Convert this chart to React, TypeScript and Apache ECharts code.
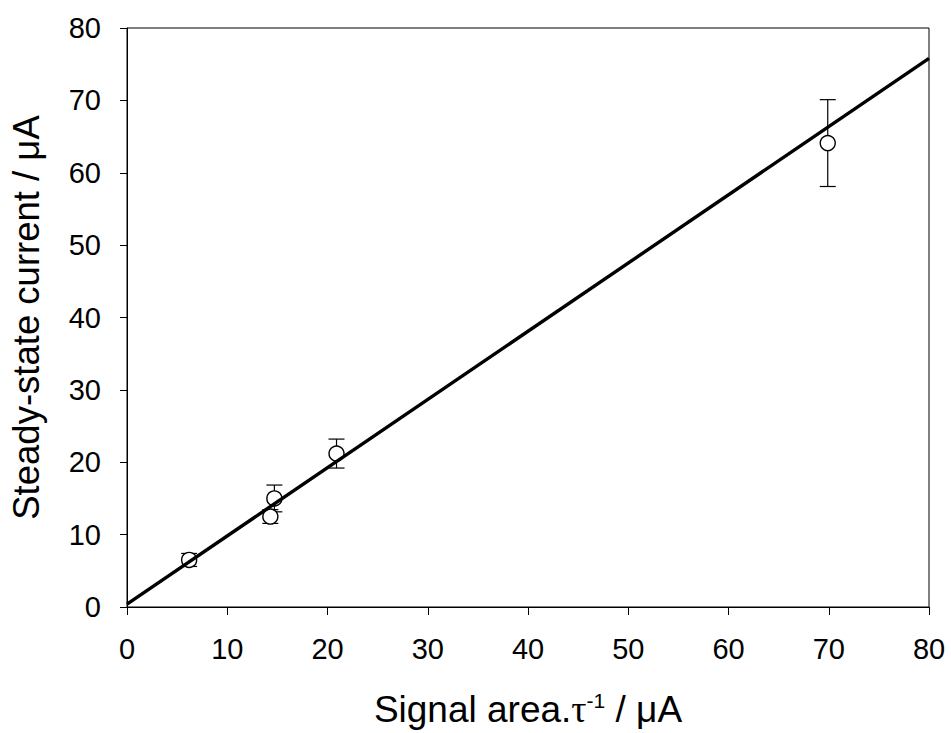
import React, { useEffect, useRef } from "react";
import * as echarts from "echarts";

const xTicks = [0, 10, 20, 30, 40, 50, 60, 70, 80];
const yTicks = [0, 10, 20, 30, 40, 50, 60, 70, 80];
const signalArea = [6.2, 14.3, 14.7, 20.9, 69.9];
const steadyCurrent = [6.5, 12.5, 15.0, 21.2, 64.1];
const errorSize = [0.9, 0.95, 1.85, 2.0, 6.0];
const fitX = [0, 80];
const fitY = [0.4, 75.8];

export default function App() {
  const ref = useRef<HTMLDivElement>(null);
  useEffect(() => {
    document.body.style.margin = "0";
    if (!ref.current) return;
    const chart = echarts.init(ref.current, null, { renderer: "svg" });
    const font = "'Liberation Sans', Arial, sans-serif";
    const points = signalArea.map((x, i) => [x, steadyCurrent[i]]);
    const errs = signalArea.map((x, i) => [
      x,
      steadyCurrent[i] - errorSize[i],
      steadyCurrent[i] + errorSize[i],
    ]);
    const fit = fitX.map((x, i) => [x, fitY[i]]);
    chart.setOption({
      animation: false,
      backgroundColor: "#fff",
      grid: {
        left: 127,
        right: 22,
        top: 28,
        bottom: 126,
        show: true,
        borderColor: "#000",
        borderWidth: 1,
        containLabel: false,
      },
      xAxis: {
        type: "value",
        min: xTicks[0],
        max: xTicks[xTicks.length - 1],
        interval: 10,
        name: "Signal area.{tau|τ}{sup|-1} / μA",
        nameLocation: "middle",
        nameGap: 83,
        nameTextStyle: {
          fontFamily: font,
          fontSize: 37,
          color: "#000",
          rich: {
            tau: { fontFamily: "'Liberation Serif', serif", fontSize: 38, color: "#000" },
            sup: { fontFamily: font, fontSize: 21, color: "#000", verticalAlign: "top", padding: [0, 0, 17, 0] },
          },
        },
        axisLine: { show: true, lineStyle: { color: "#000", width: 1 } },
        axisTick: { show: true, inside: false, length: 8, lineStyle: { color: "#000", width: 1 } },
        axisLabel: {
          fontFamily: font,
          fontSize: 29,
          color: "#000",
          margin: 27,
          formatter: (v: number) => String(v),
        },
        splitLine: { show: false },
      },
      yAxis: {
        type: "value",
        min: yTicks[0],
        max: yTicks[yTicks.length - 1],
        interval: 10,
        name: "Steady-state current / μA",
        nameLocation: "middle",
        nameGap: 82,
        nameTextStyle: { fontFamily: font, fontSize: 36.5, color: "#000" },
        axisLine: { show: true, lineStyle: { color: "#000", width: 1 } },
        axisTick: { show: true, inside: false, length: 7, lineStyle: { color: "#000", width: 1 } },
        axisLabel: {
          fontFamily: font,
          fontSize: 29,
          color: "#000",
          margin: 26,
        },
        splitLine: { show: false },
      },
      series: [
        {
          type: "custom",
          data: errs,
          z: 3,
          renderItem: (params: any, api: any) => {
            const x = api.value(0);
            const lo = api.coord([x, api.value(1)]);
            const hi = api.coord([x, api.value(2)]);
            const hw = 8;
            const st = { stroke: "#000", lineWidth: 1.2 };
            return {
              type: "group",
              children: [
                { type: "line", shape: { x1: lo[0], y1: lo[1], x2: hi[0], y2: hi[1] }, style: st },
                { type: "line", shape: { x1: lo[0] - hw, y1: lo[1], x2: lo[0] + hw, y2: lo[1] }, style: st },
                { type: "line", shape: { x1: hi[0] - hw, y1: hi[1], x2: hi[0] + hw, y2: hi[1] }, style: st },
              ],
            };
          },
        },
        {
          type: "scatter",
          data: points,
          symbol: "circle",
          symbolSize: 15,
          itemStyle: { color: "#fff", borderColor: "#000", borderWidth: 1.4, opacity: 1 },
          z: 4,
        },
        {
          type: "line",
          data: fit,
          showSymbol: false,
          symbol: "none",
          lineStyle: { color: "#000", width: 3.4 },
          z: 5,
        },
      ],
    });
    return () => chart.dispose();
  }, []);
  return <div ref={ref} style={{ width: 951, height: 733 }} />;
}
